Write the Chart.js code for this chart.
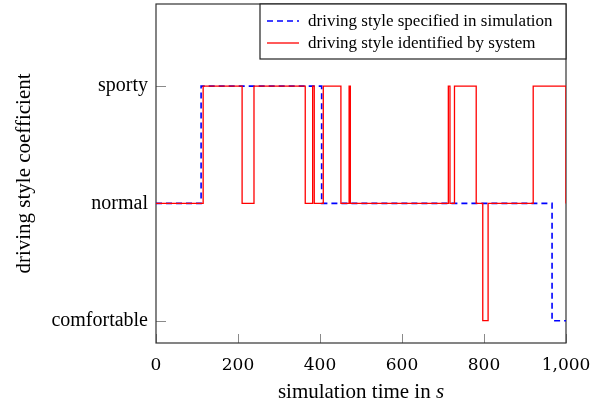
<!DOCTYPE html>
<html>
<head>
<meta charset="utf-8">
<script src="https://cdn.jsdelivr.net/npm/chart.js@4.4.1/dist/chart.umd.min.js"></script>
<style>
html, body { margin: 0; padding: 0; background: #fff; }
canvas { display: block; }
</style>
</head>
<body>
<canvas id="style_chart" width="604" height="404"></canvas>
<script>
// levels on the y axis: 0 = comfortable, 1 = normal, 2 = sporty
var styleLabels = ["comfortable", "normal", "sporty"];
var styleTicks = [0, 1, 2];
var timeTicks = [0, 200, 400, 600, 800, 1000];

// specified in simulation: time (s) where a level starts, level held until next time
var specTime  = [0, 110, 404, 966, 1000];
var specLevel = [1, 2, 1, 0, 0];

// identified by system
var identTime  = [0, 115, 210, 239, 364, 382, 386, 408, 451, 471, 474, 713, 717, 728, 781, 797, 810, 920, 1000];
var identLevel = [1, 2, 1, 2, 1, 2, 1, 2, 1, 2, 1, 2, 1, 2, 1, 0, 1, 2, 1];

var serif = "Liberation Serif";

function toPoints(times, levels){
    return times.map(function(t, i){
        return {x: t, y: levels[i]};
    });
}

// inward tick marks + frame, drawn under the lines
var framePlugin = {
    id: "frame",
    beforeDatasetsDraw: function(chart){
        var ctx = chart.ctx;
        var area = chart.chartArea;
        var xs = chart.scales.x, ys = chart.scales.y;
        ctx.save();
        ctx.strokeStyle = "#8a8a8a";
        ctx.lineWidth = 1;
        ctx.beginPath();
        styleTicks.forEach(function(v){
            var py = Math.round(ys.getPixelForValue(v)) + 0.5;
            ctx.moveTo(area.left, py);
            ctx.lineTo(area.left + 10, py);
        });
        timeTicks.forEach(function(v){
            var px = Math.round(xs.getPixelForValue(v)) + 0.5;
            ctx.moveTo(px, area.bottom);
            ctx.lineTo(px, area.bottom - 9);
        });
        ctx.stroke();
        ctx.strokeStyle = "#333";
        ctx.lineWidth = 1.2;
        ctx.strokeRect(area.left, area.top, area.right - area.left, area.bottom - area.top);
        ctx.restore();
    },
    afterDraw: function(chart){
        var ctx = chart.ctx;
        var area = chart.chartArea;
        ctx.save();

        // legend box in the top right corner
        var bx = area.right - 306, by = area.top, bw = 306, bh = 55;
        ctx.fillStyle = "#fff";
        ctx.fillRect(bx, by, bw, bh);
        ctx.strokeStyle = "#222";
        ctx.lineWidth = 1.2;
        ctx.strokeRect(bx, by, bw, bh);
        ctx.font = "17px '" + serif + "'";
        ctx.textBaseline = "middle";
        ctx.textAlign = "left";
        chart.data.datasets.forEach(function(ds, i){
            var ly = by + 17 + i * 22;
            ctx.beginPath();
            ctx.strokeStyle = ds.borderColor;
            ctx.lineWidth = ds.borderWidth;
            ctx.setLineDash(ds.borderDash || []);
            ctx.moveTo(bx + 7, ly);
            ctx.lineTo(bx + 39, ly);
            ctx.stroke();
            ctx.setLineDash([]);
            ctx.fillStyle = "#000";
            ctx.fillText(ds.label, bx + 48, ly + 1);
        });

        // axis titles
        ctx.fillStyle = "#000";
        ctx.save();
        ctx.translate(24, (area.top + area.bottom) / 2);
        ctx.rotate(-Math.PI / 2);
        ctx.font = "21px '" + serif + "'";
        ctx.textAlign = "center";
        ctx.textBaseline = "middle";
        ctx.fillText("driving style coefficient", 0, 0);
        ctx.restore();

        var plain = "simulation time in ", ital = "s";
        ctx.font = "21px '" + serif + "'";
        var w1 = ctx.measureText(plain).width;
        ctx.font = "italic 21px '" + serif + "'";
        var w2 = ctx.measureText(ital).width;
        var sx = (area.left + area.right) / 2 - (w1 + w2) / 2;
        ctx.textAlign = "left";
        ctx.textBaseline = "alphabetic";
        ctx.font = "21px '" + serif + "'";
        ctx.fillText(plain, sx, 398);
        ctx.font = "italic 21px '" + serif + "'";
        ctx.fillText(ital, sx + w1, 398);
        ctx.restore();
    }
};

var ctx = document.getElementById("style_chart");
new Chart(ctx, {
    type: "line",
    data: {
        datasets: [{
            label: "driving style specified in simulation",
            data: toPoints(specTime, specLevel),
            borderColor: "#0000ff",
            borderWidth: 1.6,
            borderDash: [6, 4],
            stepped: true,
            pointRadius: 0,
            fill: false,
            order: 1
        }, {
            label: "driving style identified by system",
            data: toPoints(identTime, identLevel),
            borderColor: "#ff0000",
            borderWidth: 1.3,
            stepped: true,
            pointRadius: 0,
            fill: false,
            order: 0
        }]
    },
    options: {
        responsive: false,
        animation: false,
        layout: {padding: {left: 0, right: 38, top: 4, bottom: 0}},
        plugins: {
            legend: {display: false},
            tooltip: {enabled: false}
        },
        scales: {
            x: {
                type: "linear",
                min: 0,
                max: 1000,
                afterBuildTicks: function(scale){
                    scale.ticks = timeTicks.map(function(v){ return {value: v}; });
                },
                afterFit: function(scale){
                    scale.height = 61;
                    scale.paddingLeft = 0;
                    scale.paddingRight = 0;
                },
                grid: {display: false, drawTicks: false},
                border: {display: false},
                ticks: {
                    padding: 12,
                    maxRotation: 0,
                    autoSkip: false,
                    color: "#000",
                    font: {family: "DejaVu Serif", size: 17},
                    callback: function(v){ return v.toLocaleString("en-US"); }
                }
            },
            y: {
                type: "linear",
                min: -0.19,
                max: 2.70,
                afterBuildTicks: function(scale){
                    scale.ticks = styleTicks.map(function(v){ return {value: v}; });
                },
                afterFit: function(scale){
                    scale.width = 156;
                    scale.paddingTop = 0;
                    scale.paddingBottom = 0;
                },
                grid: {display: false, drawTicks: false},
                border: {display: false},
                ticks: {
                    padding: 8,
                    color: "#000",
                    font: {family: serif, size: 20},
                    callback: function(v){ return styleLabels[v]; }
                }
            }
        }
    },
    plugins: [framePlugin]
});
</script>
</body>
</html>
